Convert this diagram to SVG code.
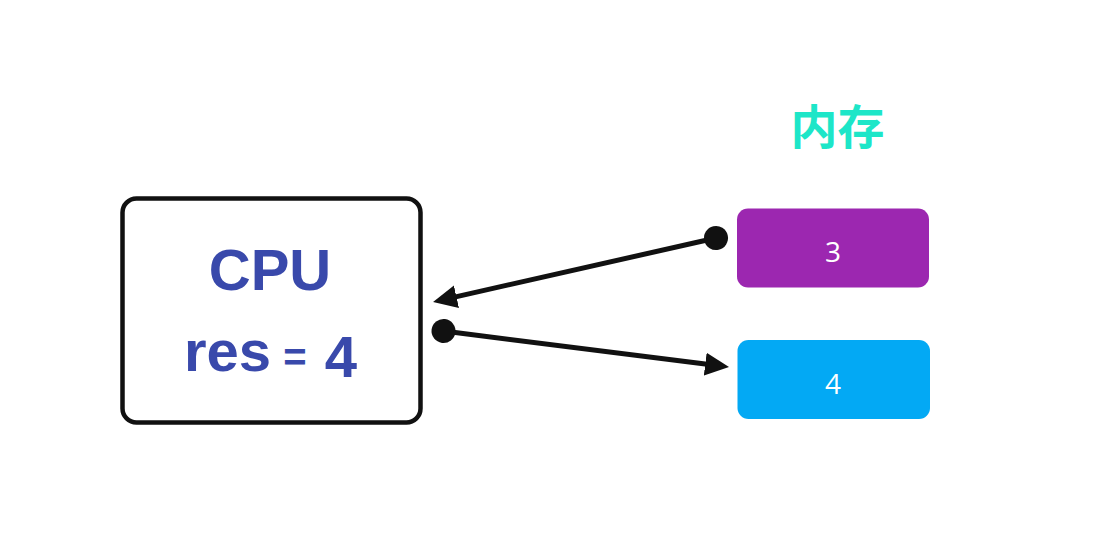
<svg xmlns="http://www.w3.org/2000/svg" width="1096" height="544" viewBox="0 0 1096 544">
  <defs>
    <style>
      .cpu-box { fill: #ffffff; stroke: #111111; stroke-width: 4.5; }
      .cpu-text { font-family: "Liberation Sans", Arial, sans-serif; font-weight: bold; fill: #3949ab; }
      .mem-title { font-family: "Noto Sans CJK SC", "Noto Sans", sans-serif; font-weight: 700; font-size: 47px; fill: #1de6c8; }
      .cell-text { font-family: "Open Sans", "Noto Sans", sans-serif; font-weight: 500; font-size: 28px; fill: #ffffff; text-anchor: middle; }
      .conn { stroke: #111111; stroke-width: 5; fill: none; marker-start: url(#dot); marker-end: url(#arrow); }
    </style>
    <marker id="arrow" markerUnits="userSpaceOnUse" markerWidth="26" markerHeight="24" viewBox="0 -12 26 24" refX="2" refY="0" orient="auto">
      <path d="M0,-11.5 L24,0 L0,11.5 z" fill="#111111"/>
    </marker>
    <marker id="dot" markerUnits="userSpaceOnUse" markerWidth="26" markerHeight="26" viewBox="-13 -13 26 26" refX="0" refY="0" orient="auto">
      <circle cx="0" cy="0" r="12" fill="#111111"/>
    </marker>
  </defs>
  <rect width="1096" height="544" fill="#ffffff"/>

  <g id="cpu">
    <rect class="cpu-box" x="122.5" y="198.5" width="298" height="224" rx="14" ry="14"/>
    <text class="cpu-text" x="270" y="290" font-size="58" text-anchor="middle">CPU</text>
    <text class="cpu-text" font-size="58">
      <tspan x="184" y="370.5">res</tspan>
      <tspan x="303" y="370.5" font-size="40" text-anchor="middle">=</tspan>
      <tspan x="341" y="377" text-anchor="middle">4</tspan>
    </text>
  </g>

  <g id="memory-title">
    <text class="mem-title" x="837.5" y="143.5" text-anchor="middle">内存</text>
  </g>

  <g id="cell-3">
    <rect x="737" y="208.5" width="192" height="79" rx="11" ry="11" fill="#9c27b0"/>
    <text class="cell-text" x="833" y="262">3</text>
  </g>

  <g id="cell-4">
    <rect x="737.5" y="340" width="192.5" height="79" rx="11" ry="11" fill="#03a9f4"/>
    <text class="cell-text" x="833" y="394">4</text>
  </g>

  <g id="connectors">
    <path class="conn" d="M716,238 L454.5,297.1"/>
    <path class="conn" d="M443.5,331 L707.2,364.3"/>
  </g>
</svg>
